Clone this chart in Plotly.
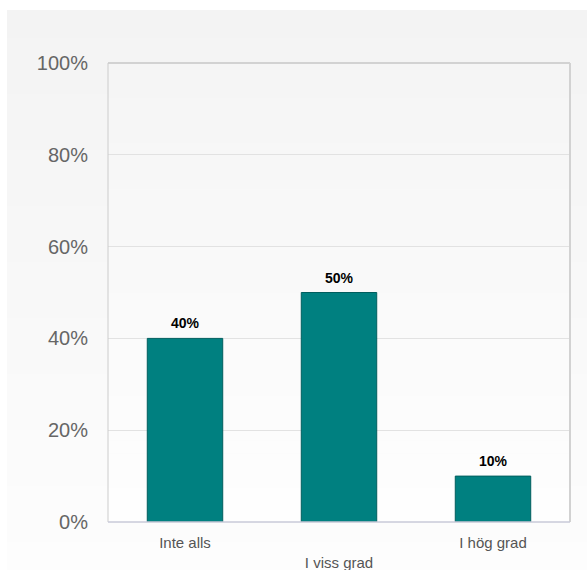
import plotly.graph_objects as go

categories = ["Inte alls", "I viss grad", "I hög grad"]
tick_labels = ["Inte alls", "<br>I viss grad", "I hög grad"]
values = [40, 50, 10]
data_labels = ["40%", "50%", "10%"]
y_ticks = [0, 20, 40, 60, 80, 100]
y_tick_labels = ["0%", "20%", "40%", "60%", "80%", "100%"]

W, H = 587, 570
PL, PR, PT, PB = 108, 570, 63, 522
FONT = "Liberation Sans, Arial, sans-serif"


def px_to_paper_x(px):
    return (px - PL) / (PR - PL)


def px_to_paper_y(py):
    return (PB - py) / (PB - PT)


def lerp_color(c0, c1, t):
    return "rgb({},{},{})".format(*[round(a + (b - a) * t) for a, b in zip(c0, c1)])


shapes = []
# outer gradient background
N = 40
top_y, bot_y = 10, 570
for i in range(N):
    y0 = top_y + (bot_y - top_y) * i / N
    y1 = top_y + (bot_y - top_y) * (i + 1) / N + 0.5
    col = lerp_color((243, 243, 243), (253, 253, 253), i / (N - 1))
    shapes.append(dict(type="rect", xref="paper", yref="paper", layer="below",
                       x0=px_to_paper_x(7), x1=px_to_paper_x(588),
                       y0=px_to_paper_y(y1), y1=px_to_paper_y(y0),
                       fillcolor=col, line=dict(width=0)))
# plot-area gradient
for i in range(N):
    y0 = PT + (PB - PT) * i / N
    y1 = PT + (PB - PT) * (i + 1) / N + 0.5
    col = lerp_color((245, 245, 245), (254, 254, 254), i / (N - 1))
    shapes.append(dict(type="rect", xref="paper", yref="paper", layer="below",
                       x0=0, x1=1, y0=px_to_paper_y(min(y1, PB)), y1=px_to_paper_y(y0),
                       fillcolor=col, line=dict(width=0)))
# borders
shapes.append(dict(type="line", xref="paper", yref="paper", x0=0, x1=1, y0=1, y1=1,
                   line=dict(color="#d2d2d2", width=2)))
shapes.append(dict(type="line", xref="paper", yref="paper", x0=1, x1=1, y0=0, y1=1,
                   line=dict(color="#d2d2d2", width=2)))
shapes.append(dict(type="line", xref="paper", yref="paper", x0=0, x1=0, y0=0, y1=1,
                   line=dict(color="#cccccc", width=1)))
shapes.append(dict(type="line", xref="paper", yref="paper", x0=0, x1=1, y0=0, y1=0,
                   line=dict(color="#c8cad8", width=1.5)))

fig = go.Figure()
fig.add_trace(go.Bar(
    x=categories, y=values,
    marker=dict(color="#008080", line=dict(color="#005e5e", width=1)),
    width=0.49,
    hoverinfo="skip",
))

annotations = []
for c, v, t in zip(categories, values, data_labels):
    annotations.append(dict(x=c, y=v, xref="x", yref="y", text="<b>%s</b>" % t,
                            showarrow=False, yanchor="bottom", yshift=5,
                            font=dict(family=FONT, size=14, color="#000000")))

fig.update_layout(
    width=W, height=H,
    margin=dict(l=PL, r=W - PR, t=PT, b=H - PB, pad=0, autoexpand=False),
    paper_bgcolor="#ffffff",
    plot_bgcolor="rgba(0,0,0,0)",
    showlegend=False,
    shapes=shapes,
    annotations=annotations,
    font=dict(family=FONT),
    xaxis=dict(
        tickmode="array", tickvals=categories, ticktext=tick_labels,
        tickfont=dict(family=FONT, size=15, color="#555555"),
        showgrid=False, zeroline=False, showline=False,
        ticks="outside", ticklen=7, tickcolor="rgba(0,0,0,0)",
        range=[-0.5, 2.5], fixedrange=True, automargin=False,
    ),
    yaxis=dict(
        tickmode="array", tickvals=y_ticks, ticktext=y_tick_labels,
        tickfont=dict(family=FONT, size=20, color="#666666"),
        range=[0, 100], showgrid=True, gridcolor="#e2e2e2", gridwidth=1,
        zeroline=False, showline=False,
        ticks="outside", ticklen=15, tickcolor="rgba(0,0,0,0)",
        fixedrange=True, automargin=False,
    ),
)

fig.write_html(
    "out.html",
    config={"displayModeBar": False, "staticPlot": True},
    post_script="document.body.style.margin='0';document.body.style.overflow='hidden';",
)
